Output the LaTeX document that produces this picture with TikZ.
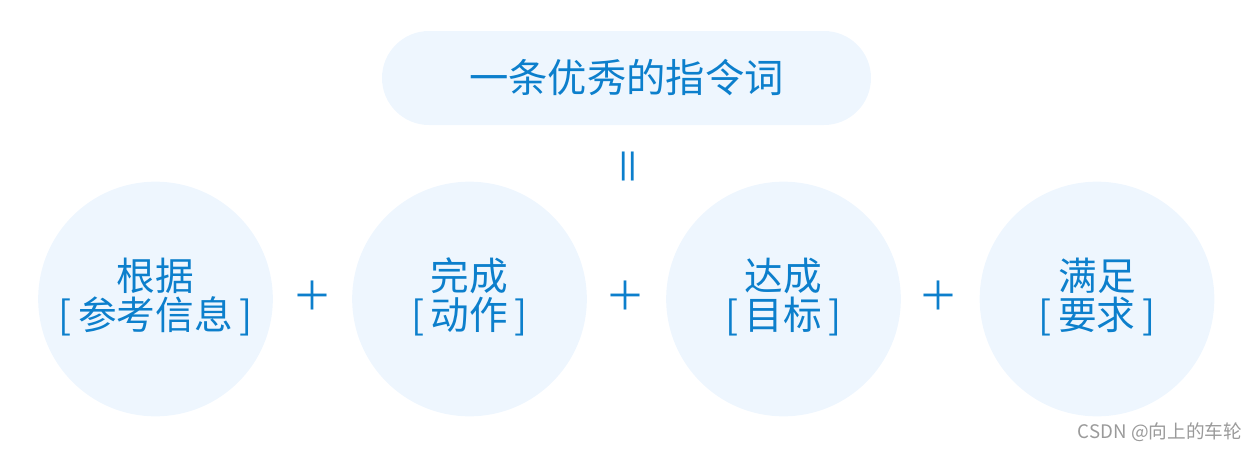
\documentclass[tikz,border=0pt]{standalone}
\usepackage{fontspec}
\newfontfamily\cjk{Noto Sans CJK SC}
\definecolor{tblue}{HTML}{0C7FCC}
\definecolor{tfill}{HTML}{EEF6FE}
\definecolor{wgray}{HTML}{9A9A9A}
\usetikzlibrary{shapes.misc}
\tikzset{
  bubble/.style={circle, fill=tfill, minimum size=176pt, inner sep=0pt},
  bubtext/.style={text=tblue, align=center, inner sep=0pt, font=\cjk\fontsize{29}{29.5}\selectfont},
  pill/.style={rounded rectangle, fill=tfill, minimum width=366.75pt, minimum height=70.5pt, inner sep=0pt,
    text=tblue, font=\cjk\fontsize{29.5}{30}\selectfont},
  op/.style={text=tblue, inner sep=0pt, font=\cjk\fontsize{30}{30}\selectfont}
}
\begin{document}
\begin{tikzpicture}[x=0.75pt,y=-0.75pt]
\useasboundingbox (0,0) rectangle (1260,450);
\node[pill] (title) at (626.5,78) {一条优秀的指令词};
\node[op, rotate=90] (eq) at (633,166) {＝};
\node[bubble] (c1) at (155.5,299) {};
\node[bubble] (c2) at (469.5,299) {};
\node[bubble] (c3) at (783.5,299) {};
\node[bubble] (c4) at (1097,299) {};
\node[bubtext] (t1) at ([yshift=1.5pt]c1.center) {根据\\{[}\,参考信息\,{]}};
\node[bubtext] (t2) at ([yshift=1.5pt]c2.center) {完成\\{[}\,动作\,{]}};
\node[bubtext] (t3) at ([yshift=1.5pt]c3.center) {达成\\{[}\,目标\,{]}};
\node[bubtext] (t4) at ([yshift=1.5pt]c4.center) {满足\\{[}\,要求\,{]}};
\node[op] (p1) at (312,296) {＋};
\node[op] (p2) at (625.5,296) {＋};
\node[op] (p3) at (938,296) {＋};
\node[text=wgray, inner sep=0pt, font=\cjk\fontsize{14}{15}\selectfont] (wm) at (1160,432) {CSDN @向上的车轮};
\end{tikzpicture}
\end{document}
